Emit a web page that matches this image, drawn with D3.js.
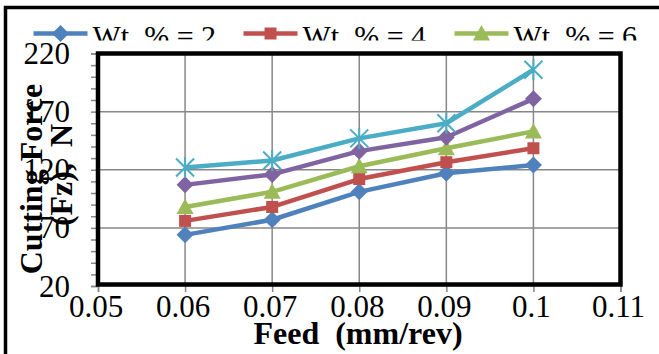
<!DOCTYPE html>
<html><head><meta charset="utf-8">
<script src="https://cdn.jsdelivr.net/npm/d3@7"></script>
<style>html,body{margin:0;padding:0;background:#fff;}svg{display:block;}</style>
</head><body>
<script>
const feed = [0.06, 0.07, 0.08, 0.09, 0.1];
const seriesNames = ["Wt. % = 2", "Wt. % = 4", "Wt. % = 6", "Wt. % = 8", "Wt. % = 10"];
const wt2  = [64, 77, 101, 117, 124];
const wt4  = [76, 88, 112, 126.5, 138.5];
const wt6  = [88, 101, 123, 138.5, 153];
const wt8  = [107, 116, 136, 148, 181];
const wt10 = [122, 128, 147, 160, 206];
const seriesValues = [wt2, wt4, wt6, wt8, wt10];
const colors = ["#4F81BD", "#C0504D", "#9BBB59", "#8064A2", "#4BACC6"];
const markers = ["diamond", "square", "triangle", "diamond", "star"];
const xTicks = [0.05, 0.06, 0.07, 0.08, 0.09, 0.1, 0.11];
const xTickLabels = ["0.05", "0.06", "0.07", "0.08", "0.09", "0.1", "0.11"];
const yTicks = [20, 70, 120, 170, 220];
const yTickLabels = ["20", "70", "120", "170", "220"];
const legendCount = 3;

const W = 659, H = 354;
const svg = d3.select("body").append("svg").attr("width", W).attr("height", H);
svg.append("rect").attr("width", W).attr("height", H).attr("fill", "#fff");

// outer chart frame
svg.append("rect").attr("x", 5.5).attr("y", 7.5).attr("width", 700).attr("height", 400)
  .attr("fill", "none").attr("stroke", "#000").attr("stroke-width", 3.5);

const x = d3.scaleLinear().domain([0.05, 0.11]).range([98, 620.5]);
const y = d3.scaleLinear().domain([20, 220]).range([286, 53.5]);
const serif = "'Liberation Serif','Times New Roman',serif";
const grid = "#878787";

// gridlines
svg.append("g").selectAll("line").data(yTicks.slice(1, -1)).join("line")
  .attr("x1", x(0.05)).attr("x2", x(0.11)).attr("y1", d => y(d)).attr("y2", d => y(d))
  .attr("stroke", grid).attr("stroke-width", 1.5);
svg.append("g").selectAll("line").data(xTicks.slice(1, -1)).join("line")
  .attr("y1", y(20)).attr("y2", y(220)).attr("x1", d => x(d)).attr("x2", d => x(d))
  .attr("stroke", grid).attr("stroke-width", 1.5);

// axes
const yAxis = d3.axisLeft(y).tickValues(d3.range(20, 221, 10)).tickSize(6).tickFormat("");
const gy = svg.append("g").attr("transform", `translate(${x(0.05) - 1},0)`).call(yAxis);
gy.selectAll("line").attr("stroke", grid).attr("stroke-width", 1.5);
gy.select(".domain").attr("stroke", grid).attr("stroke-width", 1.5);
const xAxis = d3.axisBottom(x).tickValues(xTicks).tickSize(7).tickFormat("");
const gx = svg.append("g").attr("transform", `translate(0,${y(20) - 1})`).call(xAxis);
gx.selectAll("line").attr("stroke", grid).attr("stroke-width", 1.5);
gx.select(".domain").attr("stroke", grid).attr("stroke-width", 1.5);

// plot border
svg.append("rect").attr("x", x(0.05)).attr("y", y(220)).attr("width", x(0.11) - x(0.05))
  .attr("height", y(20) - y(220) - 1.5).attr("fill", "none").attr("stroke", "#000").attr("stroke-width", 4.5);

// tick labels
svg.append("g").selectAll("text").data(yTicks).join("text")
  .attr("x", 70).attr("y", d => y(d) + 10.5).attr("text-anchor", "end")
  .attr("font-family", serif).attr("font-size", 31).text((d, i) => yTickLabels[i]);
svg.append("g").selectAll("text").data(xTicks).join("text")
  .attr("x", d => x(d) - 2).attr("y", 317).attr("text-anchor", "middle")
  .attr("font-family", serif).attr("font-size", 31).text((d, i) => xTickLabels[i]);

// axis titles
svg.append("text").attr("x", 358).attr("y", 344).attr("text-anchor", "middle")
  .attr("font-family", serif).attr("font-size", 32).attr("font-weight", "bold")
  .style("white-space", "pre").text("Feed  (mm/rev)");
svg.append("text").attr("transform", "translate(42,179) rotate(-90)").attr("text-anchor", "middle")
  .attr("font-family", serif).attr("font-size", 32).attr("font-weight", "bold")
  .text("Cutting Force");
svg.append("text").attr("transform", "translate(72,175) rotate(-90)").attr("text-anchor", "middle")
  .attr("font-family", serif).attr("font-size", 32).attr("font-weight", "bold")
  .style("white-space", "pre").text("(Fz),  N");

function markerPath(type) {
  if (type === "diamond") return "M0,-8.5L8.5,0L0,8.5L-8.5,0Z";
  if (type === "square") return "M-6,-6H6V6H-6Z";
  if (type === "triangle") return "M0,-8.5L8.5,7L-8.5,7Z";
  return "M-9,-9L9,9M-9,9L9,-9M0,-10.5V10.5";
}
function drawMarker(g, type, color) {
  if (type === "star") {
    g.append("path").attr("d", markerPath(type)).attr("fill", "none").attr("stroke", color).attr("stroke-width", 2);
  } else {
    g.append("path").attr("d", markerPath(type)).attr("fill", color);
  }
}

// series
const line = d3.line().x((d, i) => x(feed[i])).y(d => y(d));
seriesValues.forEach((vals, s) => {
  const g = svg.append("g");
  g.append("path").attr("d", line(vals)).attr("fill", "none")
    .attr("stroke", colors[s]).attr("stroke-width", 4.5).attr("stroke-linejoin", "round");
  vals.forEach((v, i) => {
    const m = g.append("g").attr("transform", `translate(${x(feed[i])},${y(v)})`);
    drawMarker(m, markers[s], colors[s]);
  });
});

// legend
svg.append("clipPath").attr("id", "legclip").append("rect").attr("x", 0).attr("y", 0).attr("width", W).attr("height", 40.5);
const legX = [60.5, 270.5, 481.5];
for (let s = 0; s < legendCount; s++) {
  const g = svg.append("g").attr("transform", `translate(${legX[s]},33.5)`);
  g.append("line").attr("x1", -27).attr("x2", 27).attr("stroke", colors[s]).attr("stroke-width", 4.5);
  drawMarker(g, markers[s], colors[s]);
  svg.append("text").attr("x", legX[s] + 32).attr("y", 46).attr("clip-path", "url(#legclip)")
    .attr("font-family", serif).attr("font-size", 30).style("white-space", "pre").text(seriesNames[s]);
}
</script>
</body></html>
